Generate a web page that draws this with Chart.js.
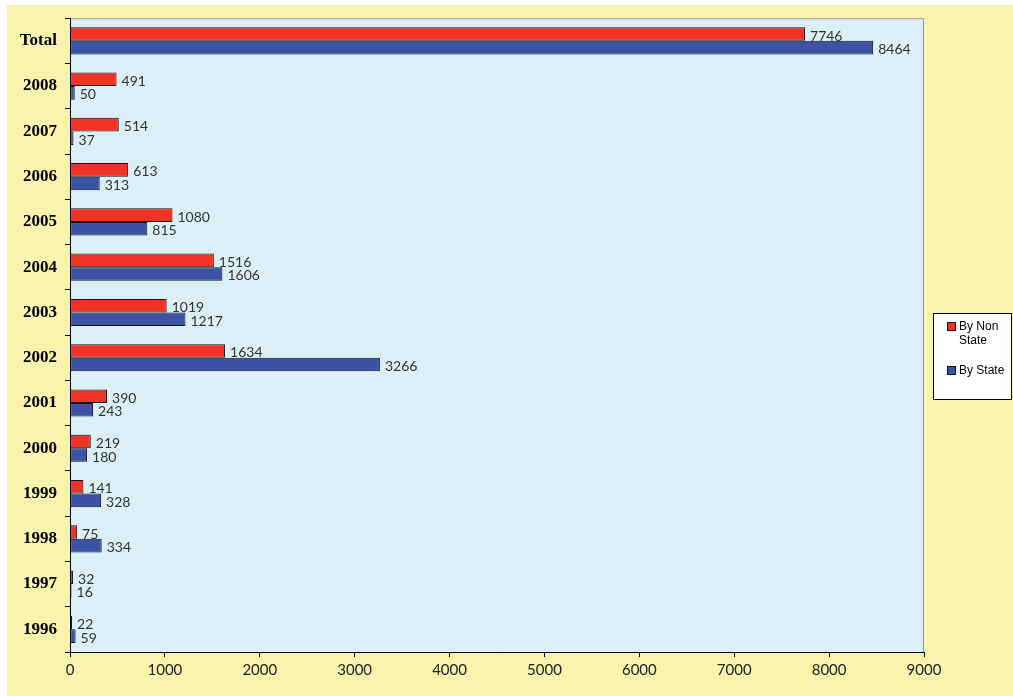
<!DOCTYPE html>
<html>
<head>
<title>By State / By Non State</title>
<script src="https://cdn.jsdelivr.net/npm/chart.js"></script>
<style>
  html, body { margin: 0; padding: 0; background: #fff; }
  #wrap { width: 1013px; height: 696px; }
</style>
</head>
<body>
<div id="wrap"><canvas id="chart" width="1013" height="696"></canvas></div>
<script>
const categories = ['Total', '2008', '2007', '2006', '2005', '2004', '2003', '2002', '2001', '2000', '1999', '1998', '1997', '1996'];
const byNonState = [7746, 491, 514, 613, 1080, 1516, 1019, 1634, 390, 219, 141, 75, 32, 22];
const byState = [8464, 50, 37, 313, 815, 1606, 1217, 3266, 243, 180, 328, 334, 16, 59];
const xTicks = [0, 1000, 2000, 3000, 4000, 5000, 6000, 7000, 8000, 9000];

const RED = 'rgb(238,52,36)';
const BLUE = 'rgb(58,83,164)';

// page + plot backgrounds
const backgrounds = {
  id: 'backgrounds',
  beforeDraw(chart) {
    const c = chart.ctx, a = chart.chartArea;
    c.save();
    c.fillStyle = '#fff';
    c.fillRect(0, 0, chart.width, chart.height);
    c.fillStyle = 'rgb(250,243,174)';
    c.fillRect(7, 5, chart.width - 7, chart.height - 5);
    c.fillStyle = 'rgb(220,238,246)';
    c.fillRect(a.left, a.top, a.right - a.left, a.bottom - a.top);
    c.strokeStyle = '#9a9a9a';
    c.lineWidth = 1;
    c.strokeRect(a.left + 0.5, a.top + 0.5, a.right - a.left - 1, a.bottom - a.top);
    c.restore();
  }
};

// value labels at bar ends
const barLabels = {
  id: 'barLabels',
  afterDatasetsDraw(chart) {
    const c = chart.ctx;
    c.save();
    c.font = '14px Lato';
    c.fillStyle = '#333';
    c.textAlign = 'left';
    c.textBaseline = 'middle';
    chart.data.datasets.forEach((ds, i) => {
      chart.getDatasetMeta(i).data.forEach((bar, j) => {
        c.fillText(ds.data[j], bar.x + 5, bar.y + 2);
      });
    });
    c.restore();
  }
};

// boxed legend on the right
const boxLegend = {
  id: 'boxLegend',
  afterDraw(chart) {
    const c = chart.ctx;
    c.save();
    c.fillStyle = '#fff';
    c.fillRect(933, 313, 79, 87);
    c.strokeStyle = '#000';
    c.lineWidth = 1;
    c.strokeRect(933.5, 313.5, 78, 86);
    c.font = '12px "Liberation Sans"';
    c.textBaseline = 'middle';
    const items = [
      { ds: chart.data.datasets[0], y: 327, lines: ['By Non', 'State'] },
      { ds: chart.data.datasets[1], y: 371, lines: ['By State'] }
    ];
    items.forEach(it => {
      c.fillStyle = it.ds.backgroundColor;
      c.fillRect(947, it.y - 4, 8, 8);
      c.strokeStyle = '#111';
      c.strokeRect(947.5, it.y - 4.5, 8, 8);
      c.fillStyle = '#000';
      it.lines.forEach((t, k) => c.fillText(t, 959, it.y + k * 14));
    });
    c.restore();
  }
};

new Chart(document.getElementById('chart'), {
  type: 'bar',
  data: {
    labels: categories,
    datasets: [
      { label: 'By Non State', data: byNonState, backgroundColor: RED, borderColor: '#151515', borderWidth: 1, borderSkipped: false },
      { label: 'By State', data: byState, backgroundColor: BLUE, borderColor: '#151515', borderWidth: 1, borderSkipped: false }
    ]
  },
  options: {
    indexAxis: 'y',
    responsive: false,
    animation: false,
    layout: { padding: { top: 17, right: 89, left: 0, bottom: 0 } },
    datasets: { bar: { categoryPercentage: 0.6, barPercentage: 1.0 } },
    plugins: { legend: { display: false }, tooltip: { enabled: false } },
    scales: {
      x: {
        min: 0, max: 9000,
        afterBuildTicks: s => { s.ticks = xTicks.map(v => ({ value: v })); },
        afterFit: s => { s.height = 44; },
        border: { color: '#000' },
        grid: { drawOnChartArea: false, drawTicks: true, tickLength: 5, color: '#000' },
        ticks: { color: '#222', font: { family: 'Lato', size: 15 }, padding: 4, callback: v => String(v) }
      },
      y: {
        afterFit: s => { s.width = 70; },
        border: { color: '#000' },
        grid: { offset: true, drawOnChartArea: false, drawTicks: true, tickLength: 5, color: '#000' },
        ticks: { color: '#000', font: { family: 'Liberation Serif', size: 17, weight: 'bold' }, padding: 8 }
      }
    }
  },
  plugins: [backgrounds, barLabels, boxLegend]
});
</script>
</body>
</html>
